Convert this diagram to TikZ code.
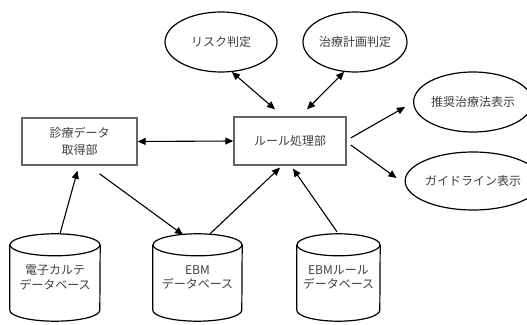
\documentclass[tikz,border=0pt]{standalone}
\usepackage{fontspec}
\setmainfont{Noto Sans CJK JP}
\usetikzlibrary{arrows.meta,shapes.geometric}
\begin{document}
\begin{tikzpicture}[x=1pt,y=1pt,
  txt/.style={font=\fontsize{12}{17}\selectfont, text=black!75, align=center},
  box/.style={txt, draw=black!60, line width=1.4pt, inner sep=0pt},
  oval/.style={txt, draw=black, line width=1.2pt, ellipse, inner sep=0pt},
  cyl/.style={txt, font=\fontsize{12}{15}\selectfont, inner sep=0pt},
  arr/.style={line width=1.1pt, -{Triangle[length=8pt,width=7pt]}},
  darr/.style={line width=1.1pt, {Triangle[length=8pt,width=7pt]}-{Triangle[length=8pt,width=7pt]}},
  cylline/.style={line width=1.2pt, draw=black}
]
\useasboundingbox (0,0) rectangle (527,324);
\fill[white] (0,0) rectangle (527,324);

% boxes
\node[box, minimum width=115pt, minimum height=47pt] (lbox) at (79.5,182.5) {診療データ\\取得部};
\node[box, minimum width=112pt, minimum height=48pt] (rule) at (290,183) {ルール処理部};

% ellipses
\node[oval, minimum width=112pt, minimum height=60pt] (e1) at (221,282) {リスク判定};
\node[oval, minimum width=104pt, minimum height=60pt] (e2) at (355,282) {治療計画判定};
\node[oval, minimum width=106pt, minimum height=60pt] (e3) at (473,222) {推奨治療法表示};
\node[oval, minimum width=106pt, minimum height=58pt] (e4) at (473,143) {ガイドライン表示};

% cylinders (text nodes + outlines)
\node[cyl, minimum width=90pt, minimum height=87pt] (db1) at (55,46.5) {\raisebox{-4pt}{\shortstack{電子カルテ\\データベース}}};
\node[cyl, minimum width=89pt, minimum height=87pt] (db2) at (197.5,46.5) {\raisebox{-4pt}{\shortstack{EBM\\データベース}}};
\node[cyl, minimum width=83pt, minimum height=87pt] (db3) at (338.5,46.5) {\raisebox{-4pt}{\shortstack{EBMルール\\データベース}}};

\foreach \d/\r in {db1/45, db2/44.5, db3/41.5}{
  \draw[cylline] ([yshift=-11pt]\d.north west) -- ([yshift=11pt]\d.south west)
     arc[start angle=180,end angle=360,x radius=\r pt,y radius=11pt]
     -- ([yshift=-11pt]\d.north east);
  \draw[cylline] ([yshift=-11pt]\d.north) ellipse[x radius=\r pt,y radius=11pt];
}

% connectors
\draw[darr] (lbox.east) -- (rule.west);
\draw[darr] (e1.-70) -- ([xshift=-15pt,yshift=7pt]rule.north);
\draw[darr] (e2.-110) -- ([xshift=17pt,yshift=7pt]rule.north);
\draw[arr] ([xshift=4pt,yshift=3pt]rule.east) -- ([xshift=-8pt,yshift=-5pt]e3.west);
\draw[arr] ([xshift=4pt,yshift=-4pt]rule.east) -- ([xshift=-8pt,yshift=3pt]e4.west);
\draw[arr] ([xshift=5pt]db1.north) -- ([xshift=-2pt,yshift=-5pt]lbox.south);
\draw[arr] ([xshift=20pt,yshift=-8pt]lbox.south) -- ([xshift=-14.5pt,yshift=-1pt]db2.north);
\draw[arr] ([xshift=12.5pt]db2.north) -- ([xshift=-10pt,yshift=-2pt]rule.south);
\draw[arr] ([xshift=-1.5pt,yshift=2pt]db3.north) -- ([xshift=3pt,yshift=-3pt]rule.south);
\end{tikzpicture}
\end{document}
